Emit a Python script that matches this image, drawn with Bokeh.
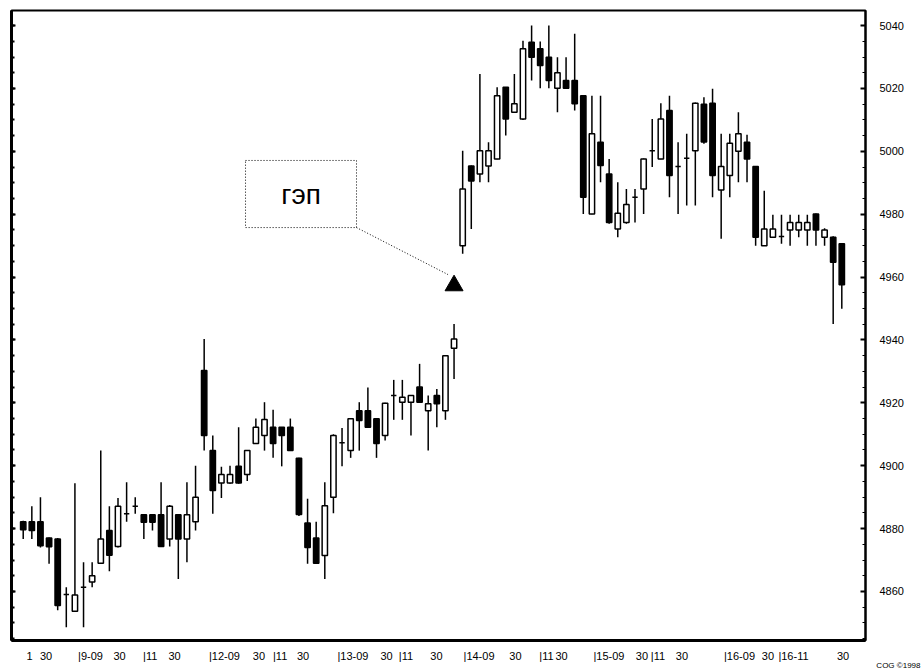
from bokeh.plotting import figure
from bokeh.models import (Range1d, LinearAxis, FixedTicker, CustomJSTickFormatter,
                          ColumnDataSource, Label, Title)
from bokeh.embed import file_html
from bokeh.resources import INLINE

# ---- data ----
opens = [4882.2, 4882.2, 4882.2, 4877.0, 4876.7, 4859.0, 4853.7, 4861.3, 4863.0, 4869.0,
         4879.4, 4874.3, 4884.7, 4887.1, 4884.4, 4884.4, 4884.4, 4876.7, 4884.4, 4876.7,
         4882.2, 4930.3, 4904.8, 4894.5, 4894.5, 4899.8, 4897.2, 4907.1, 4909.6, 4912.2,
         4912.2, 4912.2, 4902.4, 4881.8, 4877.0, 4871.4, 4890.0, 4907.3, 4904.8, 4917.5,
         4917.5, 4914.9, 4909.6, 4922.3, 4920.2, 4920.2, 4925.0, 4917.5, 4922.3, 4917.5,
         4937.4, 4970.0, 4995.3, 4992.8, 4995.3, 4997.6, 5020.4, 5012.4, 5010.3, 5034.7,
         5032.6, 5029.9, 5020.1, 5022.5, 5022.5, 5017.7, 4980.1, 5002.9, 4992.8, 4975.3,
         4977.4, 4985.4, 4988.0, 5000.2, 4997.6, 5013.0, 4995.2, 4997.8, 5000.2, 5015.0,
         5015.3, 4987.7, 4992.3, 5000.0, 5002.9, 4995.2, 4970.0, 4972.7, 4972.9, 4975.0,
         4975.0, 4975.0, 4980.1, 4972.7, 4972.7, 4970.6]
highs = [4882.5, 4887.1, 4890.0, 4877.2, 4877.0, 4861.3, 4894.4, 4869.3, 4869.3, 4904.8,
         4887.1, 4889.7, 4894.7, 4890.0, 4884.5, 4884.5, 4894.7, 4887.5, 4884.5, 4894.7,
         4900.0, 4940.3, 4909.6, 4899.7, 4900.0, 4912.2, 4905.0, 4915.0, 4920.2, 4917.8,
         4912.3, 4915.0, 4902.5, 4889.5, 4882.2, 4894.7, 4910.0, 4912.0, 4915.0, 4920.2,
         4924.9, 4915.0, 4920.0, 4927.3, 4927.3, 4922.5, 4932.4, 4922.3, 4924.4, 4935.0,
         4945.1, 5000.2, 4995.5, 5024.6, 5002.9, 5020.4, 5020.5, 5024.6, 5035.2, 5040.0,
         5034.9, 5040.0, 5029.9, 5029.9, 5037.4, 5017.8, 5017.7, 5017.7, 4997.6, 4990.2,
         4988.0, 4988.0, 4997.7, 5010.3, 5015.3, 5017.7, 5002.9, 5005.6, 5015.5, 5017.2,
         5019.9, 5005.6, 5005.6, 5012.4, 5005.3, 4995.3, 4987.5, 4979.8, 4979.8, 4979.8,
         4979.8, 4979.8, 4980.2, 4975.5, 4973.0, 4970.7]
lows = [4876.7, 4876.7, 4874.0, 4868.8, 4854.0, 4848.6, 4853.5, 4848.6, 4861.3, 4869.0,
        4866.4, 4874.0, 4882.2, 4884.7, 4876.7, 4879.4, 4874.3, 4874.3, 4864.0, 4869.3,
        4879.4, 4904.8, 4884.7, 4889.7, 4894.3, 4894.3, 4895.1, 4907.0, 4904.8, 4902.5,
        4899.8, 4904.7, 4884.0, 4868.8, 4868.8, 4864.0, 4884.9, 4899.8, 4902.5, 4904.8,
        4912.0, 4902.5, 4908.0, 4914.6, 4914.6, 4909.6, 4920.0, 4904.8, 4912.2, 4914.6,
        4927.6, 4967.4, 4975.3, 4990.2, 4990.2, 4997.5, 5005.0, 5012.3, 5010.0, 5022.5,
        5020.1, 5020.1, 5012.4, 5020.0, 5013.0, 4980.1, 4980.0, 4990.2, 4977.0, 4972.7,
        4977.0, 4977.4, 4980.1, 4995.0, 4997.5, 4985.4, 4980.1, 4982.8, 4982.8, 5002.4,
        4985.4, 4972.2, 4985.4, 4990.2, 4990.2, 4970.0, 4970.0, 4972.5, 4970.6, 4970.0,
        4972.7, 4970.0, 4970.0, 4970.0, 4945.1, 4949.9]
closes = [4879.6, 4879.4, 4874.5, 4874.2, 4855.5, 4859.0, 4858.9, 4861.3, 4865.0, 4876.7,
          4871.5, 4887.1, 4884.7, 4887.1, 4882.0, 4882.0, 4874.3, 4887.1, 4876.7, 4884.4,
          4890.0, 4909.6, 4892.1, 4897.2, 4897.2, 4894.5, 4904.8, 4912.2, 4914.7, 4907.1,
          4909.6, 4904.8, 4884.5, 4874.0, 4869.0, 4887.3, 4909.6, 4907.3, 4914.9, 4914.4,
          4912.2, 4907.1, 4919.9, 4922.3, 4921.8, 4922.3, 4920.2, 4919.7, 4919.7, 4935.0,
          4940.3, 4988.0, 4990.6, 5000.2, 5000.2, 5017.7, 5010.3, 5015.1, 5032.6, 5029.9,
          5027.3, 5022.5, 5025.0, 5020.1, 5015.1, 4985.4, 5005.6, 4995.5, 4977.4, 4980.3,
          4983.1, 4985.4, 4997.6, 5000.2, 5010.3, 4992.3, 4995.2, 4997.8, 5015.3, 5003.0,
          4992.3, 4995.2, 5002.6, 5005.6, 4997.6, 4972.7, 4975.3, 4975.3, 4972.9, 4977.4,
          4977.4, 4977.4, 4975.0, 4975.0, 4964.7, 4957.6]

# bottom axis labels (positions in bar-index units) and their texts
x_label_pos = [0.73, 2.65, 7.81, 11.18, 14.74, 17.56, 23.36, 27.36, 29.82, 32.47,
               38.27, 42.16, 44.42, 47.96, 52.90, 57.13, 60.73, 62.47, 67.98, 71.81,
               73.67, 76.45, 83.13, 86.43, 89.39, 95.14]
x_label_text = ["1", "30", "|9-09", "30", "|11", "30", "|12-09", "30", "|11", "30",
                "|13-09", "30", "|11", "30", "|14-09", "30", "|11", "30", "|15-09", "30",
                "|11", "30", "|16-09", "30", "|16-11", "30"]
y_ticks = [4860, 4880, 4900, 4920, 4940, 4960, 4980, 5000, 5020, 5040]
y_minor = list(range(4845, 5046, 5))

gap_text = "гэп"
copyright_text = "CQG ©1998"

# ---- build ----
idx = list(range(len(opens)))
top = [max(o, c) for o, c in zip(opens, closes)]
bot = [min(o, c) for o, c in zip(opens, closes)]
fill = ["black" if c < o else "white" for o, c in zip(opens, closes)]
src = ColumnDataSource(dict(x=idx, high=highs, low=lows, top=top, bottom=bot, fill=fill))

p = figure(width=923, height=668, output_backend="svg", toolbar_location=None,
           x_range=Range1d(-1.36, 97.75), y_range=Range1d(4844.4, 5044.8),
           x_axis_location="below", y_axis_location="right",
           min_border_left=11, min_border_right=58, min_border_top=10, min_border_bottom=28)
p.grid.visible = False
p.background_fill_color = "white"
p.border_fill_color = "white"
p.outline_line_color = "black"
p.outline_line_width = 2

FONT = "Liberation Sans"

# right price axis
ra = p.yaxis[0]
ra.ticker = FixedTicker(ticks=y_ticks, minor_ticks=y_minor)
ra.axis_line_width = 2
ra.major_tick_in = 5
ra.major_tick_out = 0
ra.major_tick_line_width = 2
ra.minor_tick_in = 3
ra.minor_tick_out = 0
ra.minor_tick_line_width = 1
ra.major_label_standoff = 14
ra.major_label_text_font = FONT
ra.major_label_text_font_size = "11px"
ra.major_label_text_color = "black"

# left axis with ticks only
la = LinearAxis(ticker=FixedTicker(ticks=y_ticks, minor_ticks=y_minor),
                formatter=CustomJSTickFormatter(code="return ''"))
la.axis_line_width = 3
la.major_tick_in = 4
la.major_tick_out = 0
la.major_tick_line_width = 2
la.minor_tick_in = 3
la.minor_tick_out = 0
la.minor_tick_line_width = 2
la.major_label_standoff = 0
p.add_layout(la, "left")

# bottom time axis
xa = p.xaxis[0]
xa.ticker = FixedTicker(ticks=x_label_pos)
xa.formatter = CustomJSTickFormatter(args=dict(labels=x_label_text),
                                     code="return labels[index]")
xa.axis_line_width = 3
xa.major_tick_line_color = None
xa.minor_tick_line_color = None
xa.major_label_standoff = 3
xa.major_label_text_font = FONT
xa.major_label_text_font_size = "11px"
xa.major_label_text_color = "black"

# copyright note under the time axis, pushed to the right edge
p.add_layout(Title(text=copyright_text, align="right", offset=-55, standoff=-8,
                   vertical_align="top",
                   text_font=FONT, text_font_size="8px", text_font_style="normal",
                   text_color="black"), "below")

# candles
p.segment(x0="x", y0="high", x1="x", y1="low", source=src, line_color="black", line_width=1.5)
p.vbar(x="x", top="top", bottom="bottom", width=0.62, source=src,
       fill_color="fill", line_color="black", line_width=1.5)

# gap annotation
box_l, box_r, box_b, box_t = 25.8, 38.68, 4975.75, 4997.1
p.quad(left=[box_l], right=[box_r], bottom=[box_b], top=[box_t], fill_color=None,
       line_color="black", line_dash="1 2", line_width=1)
p.line(x=[box_r, 49.3], y=[box_b, 4960.8], line_color="black", line_dash="1 2", line_width=1)
p.scatter(x=[50.0], y=[4957.3], marker="triangle", size=18, fill_color="black", line_color="black")
p.add_layout(Label(x=(box_l + box_r) / 2, y=(box_b + box_t) / 2, text=gap_text,
                   text_align="center", text_baseline="middle", text_font=FONT,
                   text_font_size="28px", text_color="black"))

open("out.html", "w").write(file_html(p, INLINE))
